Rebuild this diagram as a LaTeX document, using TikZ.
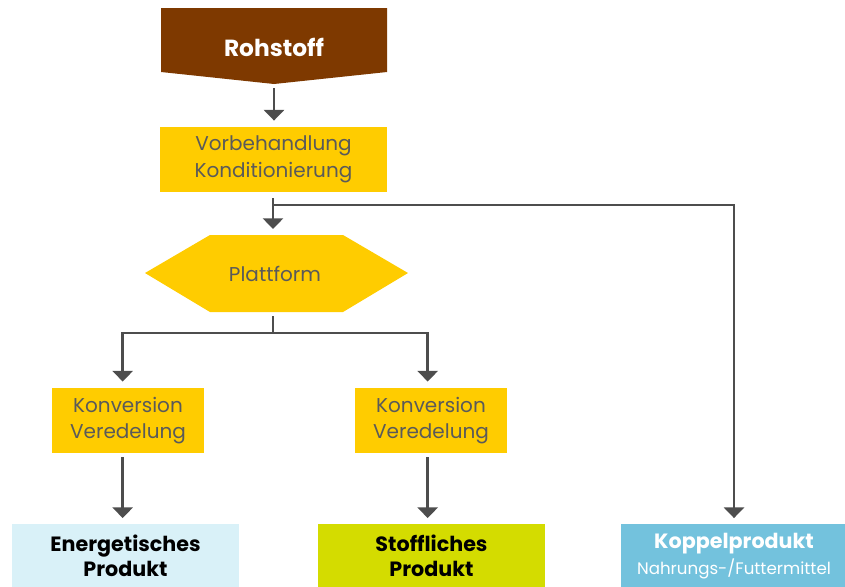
\documentclass[tikz,border=0pt]{standalone}
\usepackage{fontspec}
\setmainfont{Poppins}
\usetikzlibrary{arrows.meta}

\definecolor{braun}{RGB}{126,57,0}
\definecolor{gelb}{RGB}{255,204,0}
\definecolor{hellblau}{RGB}{217,241,248}
\definecolor{gruengelb}{RGB}{212,220,0}
\definecolor{blau}{RGB}{115,194,221}
\definecolor{pfeilgrau}{RGB}{77,77,77}
\definecolor{textgrau}{RGB}{90,90,90}

\tikzset{
  kasten/.style={fill=gelb, inner sep=0pt, align=center, text=textgrau,
    font=\fontsize{15}{20}\selectfont},
  produkt/.style={inner sep=0pt, align=center, minimum width=170pt, minimum height=47.5pt,
    font=\fontsize{15.5}{19}\selectfont\bfseries},
  pfeil/.style={draw=pfeilgrau, line width=2pt, -{Triangle[width=15pt,length=8pt]},
    shorten >=4.5pt, shorten <=3pt},
  linie/.style={draw=pfeilgrau, line width=2pt}
}

\begin{document}
\begin{tikzpicture}[x=0.75pt,y=0.75pt,yscale=-1,xscale=1]
\useasboundingbox (0,0) rectangle (845,586);

%Shape: Rohstoff
\fill [braun] (161,8) -- (387,8) -- (387,72) -- (274,84) -- (161,72) -- cycle ;
\node (rohstoff) at (274,47) [text=white, font=\fontsize{17.5}{20}\selectfont\bfseries] {Rohstoff};
\coordinate (rohspitze) at (274,84);

%Shape: Vorbehandlung
\node (vorbeh) at (273.5,159.5) [kasten, minimum width=170pt, minimum height=49pt] {Vorbehandlung\\Konditionierung};

%Shape: Plattform hexagon
\fill [gelb] (145,273) -- (210,235) -- (343,235) -- (408,273) -- (343,312) -- (210,312) -- cycle ;
\node (plattform) at (275,274) [text=textgrau, font=\fontsize{15}{20}\selectfont] {Plattform};
\coordinate (plattunten) at (273,312);
\coordinate (plattoben) at (273,235);

%Shape: Konversion
\node (konv1) at (128,420.5) [kasten, minimum width=114pt, minimum height=49pt] {Konversion\\Veredelung};
\node (konv2) at (431,420.5) [kasten, minimum width=114pt, minimum height=49pt] {Konversion\\Veredelung};

%Shape: Produkte
\node (energ) at (125.5,556) [produkt, fill=hellblau] {Energetisches\\Produkt};
\node (stoff) at (431.5,556) [produkt, fill=gruengelb] {Stoffliches\\Produkt};
\node (koppel) at (734,556) [produkt, fill=blau, text=white] {Koppelprodukt\\{\mdseries\fontsize{12.5}{16}\selectfont Nahrungs-/Futtermittel}};

% Verbinder
\coordinate (abzweig) at (273,205);
\coordinate (verteil) at (273,333);
\draw [pfeil] (rohspitze) -- (vorbeh.north -| rohspitze);
\draw [pfeil, shorten <=4.5pt] (vorbeh.south -| plattoben) -- (plattoben);
\draw [pfeil, shorten <=0pt] (abzweig) -| (koppel.north);
\draw [linie, shorten <=3pt] (plattunten) -- (verteil);
\draw [pfeil, shorten <=0pt] (verteil) -| ([xshift=-4pt]konv1.north);
\draw [pfeil, shorten <=0pt] (verteil) -| ([xshift=-2.5pt]konv2.north);
\draw [pfeil] ([xshift=-4pt]konv1.south) -- ([xshift=-4pt]konv1.south |- energ.north);
\draw [pfeil] ([xshift=-2.5pt]konv2.south) -- ([xshift=-2.5pt]konv2.south |- stoff.north);

\end{tikzpicture}
\end{document}
